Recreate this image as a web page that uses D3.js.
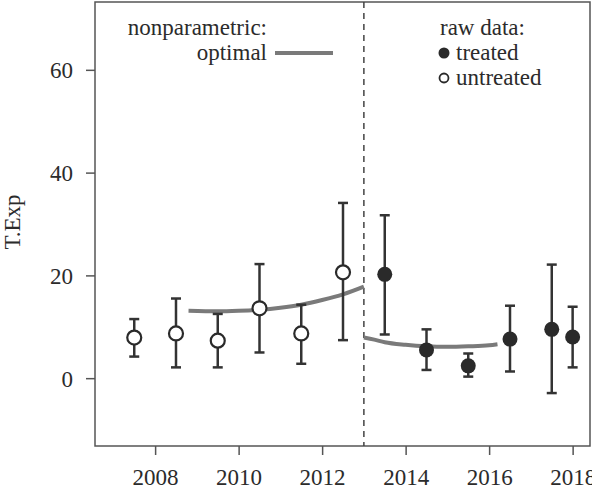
<!DOCTYPE html>
<html>
<head>
<meta charset="utf-8">
<script src="https://cdn.jsdelivr.net/npm/d3@7"></script>
<style>
  body { margin: 0; background: #fff; }
  text { font-family: "Liberation Serif", "DejaVu Serif", serif; fill: #2b2b2b; }
</style>
</head>
<body>
<div id="chart"></div>
<script>
// raw data, one point per half year
var years      = [2007.5, 2008.5, 2009.5, 2010.5, 2011.5, 2012.5, 2013.5, 2014.5, 2015.5, 2016.5, 2017.5, 2018.0];
var means      = [7.9, 8.7, 7.3, 13.6, 8.7, 20.6, 20.2, 5.5, 2.4, 7.6, 9.5, 8.0];
var upper      = [11.5, 15.5, 12.5, 22.2, 14.3, 34.1, 31.7, 9.5, 4.8, 14.1, 22.1, 13.9];
var lower      = [4.2, 2.1, 2.1, 5.0, 2.8, 7.4, 8.5, 1.6, 0.3, 1.3, -2.9, 2.1];
var treated    = [0, 0, 0, 0, 0, 0, 1, 1, 1, 1, 1, 1];

// nonparametric fit, before and after the break
var preYears   = [2008.8, 2009.5, 2010, 2010.5, 2011, 2011.5, 2012, 2012.5, 2013];
var preFit     = [13.1, 13.0, 13.1, 13.3, 13.7, 14.3, 15.2, 16.3, 17.8];
var postYears  = [2013, 2013.25, 2013.5, 2014, 2014.5, 2015, 2015.5, 2016, 2016.2];
var postFit    = [7.9, 7.5, 7.0, 6.5, 6.2, 6.1, 6.2, 6.4, 6.6];

var xTicks = [2008, 2010, 2012, 2014, 2016, 2018];
var yTicks = [0, 20, 40, 60];
var cutoff = 2013;

var width = 592, height = 489;
var mLeft = 95, mRight = 591, mTop = 2, mBottom = 446;
var fontSize = '23px';

var svg = d3.select('#chart').append('svg')
    .attr('width', width)
    .attr('height', height);

var x = d3.scaleLinear().domain([2006.56, 2018.44]).range([mLeft, mRight]);
var y = d3.scaleLinear().domain([-13.2, 73.2]).range([mBottom, mTop]);

var dark = '#2a2a2a';

// box
svg.append('rect')
    .attr('x', mLeft).attr('y', mTop)
    .attr('width', mRight - mLeft - 1).attr('height', mBottom - mTop)
    .style('fill', 'none').style('stroke', '#555').style('stroke-width', 1.5);

// axes
var xAxis = svg.append('g')
    .attr('transform', 'translate(0,' + mBottom + ')')
    .call(d3.axisBottom(x).tickValues(xTicks).tickFormat(d3.format('d')).tickSize(9).tickPadding(13));
var yAxis = svg.append('g')
    .attr('transform', 'translate(' + mLeft + ',0)')
    .call(d3.axisLeft(y).tickValues(yTicks).tickSize(9).tickPadding(13));
[xAxis, yAxis].forEach(function (g) {
  g.select('.domain').remove();
  g.selectAll('line').style('stroke', '#555').style('stroke-width', 1.5);
  g.selectAll('text').style('font-size', fontSize).style('fill', '#2b2b2b')
      .style('font-family', '"Liberation Serif", serif');
});
xAxis.selectAll('text').attr('dy', '0.72em');
yAxis.selectAll('text').attr('dy', '0.35em');

svg.append('text')
    .attr('transform', 'translate(20,' + ((mTop + mBottom) / 2 - 2) + ') rotate(-90)')
    .attr('text-anchor', 'middle')
    .style('font-size', fontSize)
    .text('T.Exp');

// cutoff line
svg.append('line')
    .attr('x1', x(cutoff)).attr('x2', x(cutoff))
    .attr('y1', mTop).attr('y2', mBottom)
    .style('stroke', '#444').style('stroke-width', 1.5)
    .style('stroke-dasharray', '6,5');

// fitted curves
var line = d3.line().curve(d3.curveMonotoneX);
[[preYears, preFit], [postYears, postFit]].forEach(function (s) {
  svg.append('path')
      .attr('d', line(s[0].map(function (d, i) { return [x(d), y(s[1][i])]; })))
      .style('fill', 'none').style('stroke', '#7a7a7a').style('stroke-width', 4);
});

// error bars
var idx = d3.range(years.length);
var bars = svg.append('g').selectAll('g').data(idx).enter().append('g');
bars.append('line')
    .attr('x1', function (i) { return x(years[i]); })
    .attr('x2', function (i) { return x(years[i]); })
    .attr('y1', function (i) { return y(upper[i]); })
    .attr('y2', function (i) { return y(lower[i]); });
bars.append('line')
    .attr('x1', function (i) { return x(years[i]) - 5; })
    .attr('x2', function (i) { return x(years[i]) + 5; })
    .attr('y1', function (i) { return y(upper[i]); })
    .attr('y2', function (i) { return y(upper[i]); });
bars.append('line')
    .attr('x1', function (i) { return x(years[i]) - 5; })
    .attr('x2', function (i) { return x(years[i]) + 5; })
    .attr('y1', function (i) { return y(lower[i]); })
    .attr('y2', function (i) { return y(lower[i]); });
bars.selectAll('line').style('stroke', '#333').style('stroke-width', 2.5);

// points
svg.append('g').selectAll('circle').data(idx).enter().append('circle')
    .attr('cx', function (i) { return x(years[i]); })
    .attr('cy', function (i) { return y(means[i]); })
    .attr('r', function (i) { return treated[i] ? 7.5 : 7; })
    .style('fill', function (i) { return treated[i] ? dark : '#fff'; })
    .style('stroke', dark)
    .style('stroke-width', function (i) { return treated[i] ? 0 : 2.2; });

// legend: nonparametric
svg.append('text').attr('x', 267).attr('y', 35).attr('text-anchor', 'end')
    .style('font-size', fontSize).text('nonparametric:');
svg.append('text').attr('x', 267).attr('y', 60).attr('text-anchor', 'end')
    .style('font-size', fontSize).text('optimal');
svg.append('line').attr('x1', 275).attr('x2', 333).attr('y1', 53).attr('y2', 53)
    .style('stroke', '#7a7a7a').style('stroke-width', 4);

// legend: raw data
svg.append('text').attr('x', 440).attr('y', 35).style('font-size', fontSize).text('raw data:');
svg.append('circle').attr('cx', 444).attr('cy', 53).attr('r', 5.5).style('fill', dark);
svg.append('text').attr('x', 456).attr('y', 60).style('font-size', fontSize).text('treated');
svg.append('circle').attr('cx', 444).attr('cy', 78).attr('r', 4.5)
    .style('fill', '#fff').style('stroke', dark).style('stroke-width', 1.8);
svg.append('text').attr('x', 456).attr('y', 85).style('font-size', fontSize).text('untreated');
</script>
</body>
</html>
